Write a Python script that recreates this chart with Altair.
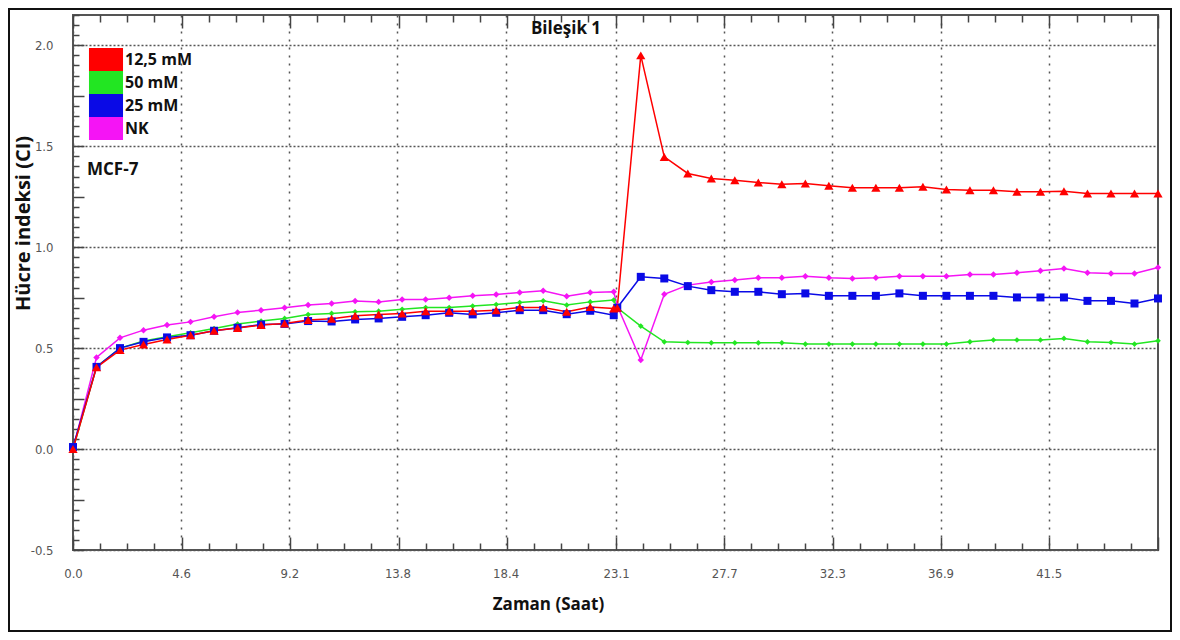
import altair as alt
import pandas as pd

# ---------------- data ----------------
times = [0.0, 1.0, 2.0, 3.0, 4.0, 5.0, 6.0, 7.0, 8.0, 9.0, 10.0, 11.0, 12.0,
         13.0, 14.0, 15.0, 16.0, 17.0, 18.0, 19.0, 20.0, 21.0, 22.0, 23.0, 23.15,
         24.15, 25.15, 26.15, 27.15, 28.15, 29.15, 30.15, 31.15, 32.15, 33.15,
         34.15, 35.15, 36.15, 37.15, 38.15, 39.15, 40.15, 41.15, 42.15, 43.15,
         44.15, 45.15, 46.15]

ci_125 = [0.0, 0.405, 0.49, 0.518, 0.543, 0.564, 0.586, 0.60, 0.614, 0.622, 0.639, 0.645,
          0.66, 0.667, 0.672, 0.683, 0.683, 0.683, 0.688, 0.701, 0.701, 0.68, 0.704, 0.696,
          0.70,
          1.95, 1.447, 1.365, 1.34, 1.332, 1.32, 1.312, 1.315, 1.304, 1.294, 1.294, 1.294,
          1.299, 1.286, 1.282, 1.282, 1.274, 1.274, 1.277, 1.266, 1.266, 1.266, 1.266]
ci_50 = [0.0, 0.407, 0.50, 0.535, 0.556, 0.576, 0.597, 0.619, 0.634, 0.647, 0.666, 0.672,
         0.680, 0.683, 0.692, 0.701, 0.701, 0.708, 0.716, 0.726, 0.734, 0.713, 0.729, 0.738,
         0.70,
         0.609, 0.531, 0.528, 0.526, 0.526, 0.526, 0.526, 0.520, 0.52, 0.52, 0.52, 0.52,
         0.52, 0.52, 0.531, 0.540, 0.540, 0.54, 0.548, 0.531, 0.528, 0.52, 0.536]
ci_25 = [0.01, 0.407, 0.50, 0.531, 0.553, 0.564, 0.586, 0.601, 0.617, 0.620, 0.634, 0.632,
         0.642, 0.647, 0.655, 0.663, 0.675, 0.667, 0.675, 0.688, 0.688, 0.668, 0.685, 0.663,
         0.70,
         0.853, 0.845, 0.807, 0.787, 0.779, 0.779, 0.767, 0.771, 0.759, 0.759, 0.759, 0.771,
         0.759, 0.759, 0.759, 0.759, 0.751, 0.751, 0.751, 0.734, 0.734, 0.721, 0.746]
ci_nk = [0.0, 0.454, 0.551, 0.589, 0.614, 0.630, 0.655, 0.677, 0.688, 0.70, 0.713, 0.721,
         0.733, 0.729, 0.741, 0.741, 0.749, 0.759, 0.766, 0.776, 0.784, 0.757, 0.776, 0.779,
         0.71,
         0.441, 0.767, 0.812, 0.828, 0.837, 0.848, 0.848, 0.856, 0.848, 0.845, 0.848, 0.856,
         0.856, 0.856, 0.865, 0.865, 0.873, 0.883, 0.894, 0.873, 0.870, 0.870, 0.899]

series_names = ["12,5 mM", "50 mM", "25 mM", "NK"]
series_colors = ["#ff0000", "#22e622", "#0a0ae6", "#f514f5"]
series_shapes = ["triangle-up", "diamond", "square", "diamond"]
series_sizes = [85, 32, 64, 42]

x_tick_labels = [0.0, 4.6, 9.2, 13.8, 18.4, 23.1, 27.7, 32.3, 36.9, 41.5]
y_tick_labels = [-0.5, 0.0, 0.5, 1.0, 1.5, 2.0]

chart_title = "Bileşik 1"
cell_line = "MCF-7"
x_title = "Zaman (Saat)"
y_title = "Hücre indeksi (CI)"

# ---------------- table ----------------
shape_of = dict(zip(series_names, series_shapes))
size_of = dict(zip(series_names, series_sizes))
color_of = dict(zip(series_names, series_colors))
draw_order = [("NK", ci_nk), ("50 mM", ci_50), ("25 mM", ci_25), ("12,5 mM", ci_125)]
rows = []
for name, vals in draw_order:
    for t, v in zip(times, vals):
        rows.append({"t": t, "ci": v, "series": name,
                     "marker": shape_of[name], "msize": size_of[name]})
df = pd.DataFrame(rows)

# ---------------- layout ----------------
W, H = 1085, 535
X_MAX = 46.15
minor_x = [round(i * X_MAX / 40, 4) for i in range(41)]
minor_y = [round(-0.5 + 0.05 * i, 3) for i in range(54)]

NARROW = "Liberation Sans Narrow, Arial Narrow, DejaVu Sans Condensed, sans-serif"
BOLD = "Open Sans"

x_scale = alt.Scale(domain=[0, X_MAX], nice=False, zero=False)
y_scale = alt.Scale(domain=[-0.5, 2.15], nice=False, zero=False)
color_scale = alt.Scale(domain=series_names, range=series_colors)
# line colours: same mapping, listed in drawing order (separate scale, no legend)
stroke_names = [n for n, _ in draw_order]
stroke_scale = alt.Scale(domain=stroke_names,
                         range=[color_of[n] for n in stroke_names])

x_main_axis = alt.Axis(
    orient="bottom", values=x_tick_labels, format=".1f", grid=True,
    gridDash=[2, 6], gridColor="#555", gridWidth=1.5, ticks=False, tickSize=0,
    domain=False, labelFont=NARROW, labelFontSize=13, labelColor="#555",
    labelPadding=17, labelFlush=False, labelOverlap=False,
    title=x_title, titleFont=BOLD, titleFontSize=17, titleFontWeight="bold",
    titleColor="#111", titleX=475, titleY=54, titleBaseline="middle",
    titleAlign="center")
y_main_axis = alt.Axis(
    orient="left", values=y_tick_labels,
    labelExpr="datum.value < 0 ? '-' + format(-datum.value, '.1f') : format(datum.value, '.1f')",
    grid=True, gridDash=[2, 2], gridColor="#555", gridWidth=1.5, ticks=False,
    tickSize=0, domain=False, labelFont=NARROW, labelFontSize=13,
    labelColor="#555", labelPadding=20, labelFlush=False, labelOverlap=False,
    labelBaseline="middle",
    title=y_title, titleFont=BOLD, titleFontSize=20, titleFontWeight="bold",
    titleColor="#111", titleX=-50, titleY=208, titleAngle=270,
    titleBaseline="middle", titleAlign="center")

x_major_test = "abs(datum.value / 4.615 - round(datum.value / 4.615)) < 0.02"
y_major_test = "abs(datum.value * 4 - round(datum.value * 4)) < 0.01"


def tick_axis(orient, offset, values, test, big, small):
    return alt.Axis(orient=orient, offset=offset, values=values, labels=False,
                    grid=False, domain=False, ticks=True,
                    tickSize={"condition": {"test": test, "value": big}, "value": small},
                    tickColor="#444", tickWidth=1.5, title=None)


legend = alt.Legend(
    title=None, orient="none", legendX=21.5, legendY=33,
    symbolType="M-1.48,-1H1.48V1H-1.48Z", symbolSize=529, symbolStrokeWidth=0,
    symbolOpacity=1, labelFont=BOLD, labelFontSize=16, labelFontWeight="bold",
    labelColor="#111", labelOffset=7.5, rowPadding=0, padding=0)

base = alt.Chart(df)

lines = base.mark_line(strokeWidth=1.5).encode(
    x=alt.X("t:Q", scale=x_scale, axis=x_main_axis),
    y=alt.Y("ci:Q", scale=y_scale, axis=y_main_axis),
    stroke=alt.Stroke("series:N", scale=stroke_scale, legend=None),
)

points = base.mark_point(filled=True, opacity=1).encode(
    x=alt.X("t:Q", scale=x_scale, axis=None),
    y=alt.Y("ci:Q", scale=y_scale, axis=None),
    color=alt.Color("series:N", scale=color_scale, legend=legend),
    shape=alt.Shape("marker:N", scale=None),
    size=alt.Size("msize:Q", scale=None),
)

# inward ticks: bottom edge (x) and left edge (y)
ticks_a = base.mark_point(opacity=0).encode(
    x=alt.X("t:Q", scale=x_scale,
            axis=tick_axis("top", -H, minor_x, x_major_test, 13, 7)),
    y=alt.Y("ci:Q", scale=y_scale,
            axis=tick_axis("right", -W, minor_y, y_major_test, 11, 6)),
)
# inward ticks: top edge
ticks_b = base.mark_point(opacity=0).encode(
    x=alt.X("t:Q", scale=x_scale,
            axis=tick_axis("bottom", -H, minor_x, x_major_test, 13, 7)),
    y=alt.Y("ci:Q", scale=y_scale, axis=None),
)

title_text = alt.Chart(pd.DataFrame({"label": [chart_title]})).mark_text(
    font=BOLD, fontSize=17, fontWeight="bold", align="center",
    baseline="middle", color="#111"
).encode(text="label:N", x=alt.value(493), y=alt.value(14))

cell_text = alt.Chart(pd.DataFrame({"label": [cell_line]})).mark_text(
    font=BOLD, fontSize=17, fontWeight="bold", align="left",
    baseline="middle", color="#111"
).encode(text="label:N", x=alt.value(14), y=alt.value(155))

frame = alt.Chart(pd.DataFrame({"label": ["frame"]})).mark_rect(
    fillOpacity=0, stroke="#111", strokeWidth=2
).encode(x=alt.value(-64), x2=alt.value(W + 13), y=alt.value(-6),
         y2=alt.value(H + 81))

chart = alt.layer(
    frame, lines, points, ticks_a, ticks_b, title_text, cell_text
).resolve_axis(
    x="independent", y="independent"
).properties(
    width=W, height=H,
    padding={"left": 65, "top": 7, "right": 14, "bottom": 82},
    autosize=alt.AutoSizeParams(type="none"),
    background="white",
).configure_view(
    stroke="#555", strokeWidth=2
)

chart.save("out.html", embed_options={"renderer": "svg", "actions": False})
